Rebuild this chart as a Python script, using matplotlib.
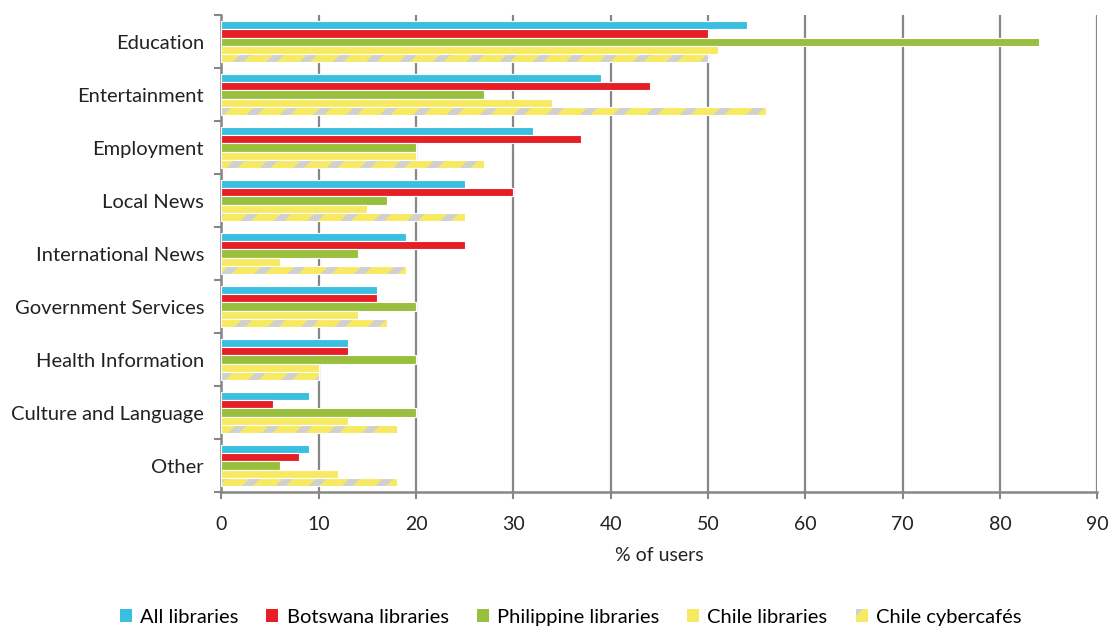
import matplotlib
matplotlib.use("Agg")
import matplotlib.pyplot as plt
from matplotlib.patches import Patch
import numpy as np

categories = ["Education", "Entertainment", "Employment", "Local News",
              "International News", "Government Services", "Health Information",
              "Culture and Language", "Other"]
series_names = ["All libraries", "Botswana libraries", "Philippine libraries",
                "Chile libraries", "Chile cybercafés"]
all_libraries = [54, 39, 32, 25, 19, 16, 13, 9, 9]
botswana_libraries = [50, 44, 37, 30, 25, 16, 13, 5.3, 8]
philippine_libraries = [84, 27, 20, 17, 14, 20, 20, 20, 6]
chile_libraries = [51, 34, 20, 15, 6, 14, 10, 13, 12]
chile_cybercafes = [50, 56, 27, 25, 19, 17, 10, 18, 18]
x_ticks = [0, 10, 20, 30, 40, 50, 60, 70, 80, 90]

series = [all_libraries, botswana_libraries, philippine_libraries,
          chile_libraries, chile_cybercafes]
colors = ["#3bbfe1", "#e61f26", "#99bf3e", "#f7ea62", "#f7ea62"]
hatches = [None, None, None, None, "/"]
hatch_grey = "#d0d0d0"

plt.rcParams["font.family"] = ["Lato", "DejaVu Sans"]
plt.rcParams["hatch.linewidth"] = 5.5

fig = plt.figure(figsize=(11.1, 6.3), dpi=100)
ax = fig.add_axes([0.1995, 0.219, 0.789, 0.757])

y = np.arange(len(categories))
bar_h = 0.155
for j, (vals, col, hat) in enumerate(zip(series, colors, hatches)):
    pos = y + (j - 2) * bar_h
    if hat:
        # hatch strokes take the edge colour, so fill first, then outline in white
        ax.barh(pos, vals, height=bar_h, color=col, edgecolor=hatch_grey,
                linewidth=0, hatch=hat, zorder=3)
        ax.barh(pos, vals, height=bar_h, fill=False, edgecolor="white",
                linewidth=0.8, zorder=4)
    else:
        ax.barh(pos, vals, height=bar_h, color=col, edgecolor="white",
                linewidth=0.8, zorder=3)

ax.set_xlim(0, 90)
ax.set_ylim(len(categories) - 0.5, -0.5)
ax.set_xticks(x_ticks)
ax.set_xticklabels([str(t) for t in x_ticks], fontsize=14, color="#222222")
ax.set_yticks(y)
ax.set_yticklabels(categories, fontsize=14.5, color="#222222")
ax.set_yticks(np.arange(len(categories) + 1) - 0.5, minor=True)
ax.tick_params(axis="y", which="major", length=0, pad=12.5)
ax.tick_params(axis="y", which="minor", length=5, width=1.5, color="#868686")
ax.tick_params(axis="x", which="major", length=5, width=1.5, color="#868686", pad=12)

ax.grid(axis="x", color="#878787", linewidth=1.6, zorder=0)
for s in ["top", "right"]:
    ax.spines[s].set_visible(False)
for s in ["left", "bottom"]:
    ax.spines[s].set_color("#868686")
    ax.spines[s].set_linewidth(1.8)

ax.set_xlabel("% of users", fontsize=14, color="#222222", labelpad=10)

handles = [Patch(facecolor=c, edgecolor=hatch_grey if h else "none",
                 linewidth=0, hatch=h, label=n)
           for c, h, n in zip(colors, hatches, series_names)]
fig.legend(handles=handles, loc="lower center", ncol=5, frameon=False,
           bbox_to_anchor=(0.514, -0.022), fontsize=14.5, handlelength=0.6,
           handleheight=0.6, handletextpad=0.4, columnspacing=1.4)

fig.savefig("out.png", dpi=100)
